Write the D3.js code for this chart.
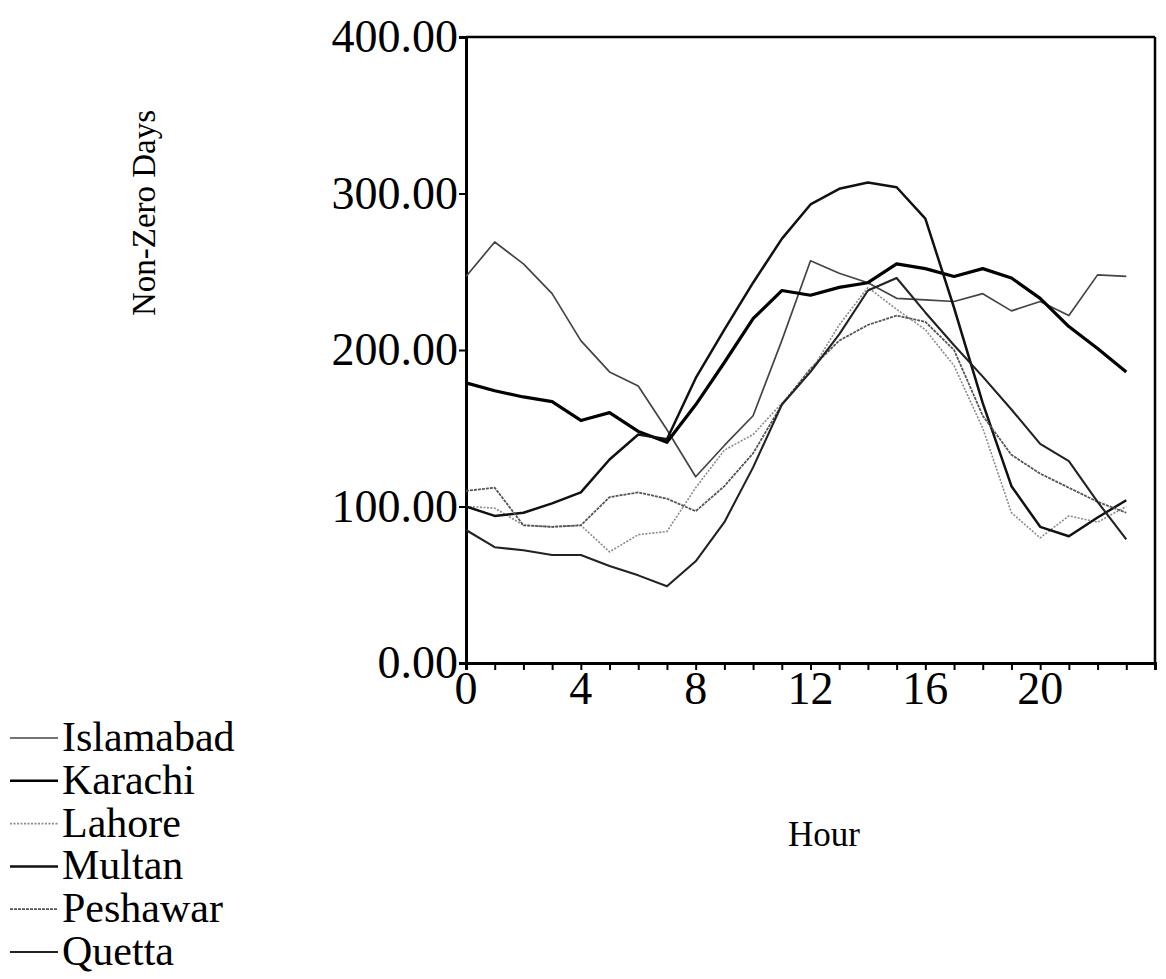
<!DOCTYPE html>
<html>
<head>
<meta charset="utf-8">
<script src="https://cdnjs.cloudflare.com/ajax/libs/d3/7.8.5/d3.min.js"></script>
<style>
	body{margin:0;background:#fff;}
	#viz{width:1166px;height:979px;}
	text{font-family:"Liberation Serif","Times New Roman",serif;fill:#000;}
</style>
</head>
<body>
<div id="viz"></div>
<script>
var hours = d3.range(0,24);
var cities = ["Islamabad","Karachi","Lahore","Multan","Peshawar","Quetta"];

var islamabad = [247,269,255,236,206,186,177,149,119,139,158,206,257,249,243,233,232,231,236,225,231,222,248,247];
var karachi   = [179,174,170,167,155,160,148,141,165,192,220,238,235,240,243,255,252,247,252,246,233,215,201,186];
var lahore    = [100,99,88,87,88,71,82,84,112,136,146,166,186,216,240,226,213,190,150,96,80,94,90,100];
var multan    = [100,94,96,102,109,130,146,143,182,213,243,271,293,303,307,304,284,227,166,113,87,81,93,104];
var peshawar  = [110,112,88,87,88,106,109,105,97,113,134,165,188,206,216,222,218,200,158,133,121,112,103,96];
var quetta    = [85,74,72,69,69,62,56,49,65,90,125,165,186,210,238,246,224,203,183,162,140,129,103,79];

var yTicks = [0,100,200,300,400];
var xTickLabels = [0,4,8,12,16,20];

var Viz = (function(){
	var svg;
	var width = 1166, height = 979;
	var left = 466, right = 1155, top = 37, bottom = 663;
	var x, y;

	var series = [islamabad, karachi, lahore, multan, peshawar, quetta];
	var strokeColors = ["#444","#000","#8a8a8a","#111","#555","#222"];
	var strokeWidths = [1.7,3.2,1.6,2.5,1.8,2.1];
	var dashes = [null,null,"2,1.5",null,"3,1",null];

	var drawAxes = function(){
		x = d3.scaleLinear().domain([0,24]).range([left,right]);
		y = d3.scaleLinear().domain([0,400]).range([bottom,top]);

		// top and right of the frame
		svg.append("line")
			.attr("x1",left).attr("x2",right)
			.attr("y1",top).attr("y2",top)
			.style("stroke","#000").style("stroke-width",2.5);
		svg.append("line")
			.attr("x1",right).attr("x2",right)
			.attr("y1",top).attr("y2",bottom)
			.style("stroke","#000").style("stroke-width",2.5);

		var xAxis = svg.append("g")
			.attr("transform","translate(0,"+bottom+")")
			.call(d3.axisBottom(x).tickValues(d3.range(0,25)).tickSize(7).tickFormat(""));
		xAxis.select(".domain").style("stroke-width",3);
		xAxis.selectAll("line").style("stroke-width",2);

		svg.selectAll(".xlab")
			.data(xTickLabels)
			.enter()
			.append("text")
			.attr("class","xlab")
			.attr("x",function(d){ return x(d); })
			.attr("y",bottom+41)
			.attr("text-anchor","middle")
			.style("font-size","46px")
			.text(function(d){ return d; });

		var yAxis = svg.append("g")
			.attr("transform","translate("+left+",0)")
			.call(d3.axisLeft(y).tickValues(yTicks).tickSize(7).tickFormat(""));
		yAxis.select(".domain").style("stroke-width",3);
		yAxis.selectAll("line").style("stroke-width",2);

		svg.selectAll(".ylab")
			.data(yTicks)
			.enter()
			.append("text")
			.attr("class","ylab")
			.attr("x",left-8)
			.attr("y",function(d){ return y(d)+15; })
			.attr("text-anchor","end")
			.style("font-size","46px")
			.text(function(d){ return d3.format(".2f")(d); });

		svg.append("text")
			.attr("transform","translate(155,213) rotate(-90)")
			.attr("text-anchor","middle")
			.style("font-size","33px")
			.text("Non-Zero Days");
		svg.append("text")
			.attr("x",824)
			.attr("y",846)
			.attr("text-anchor","middle")
			.style("font-size","35px")
			.text("Hour");
	}

	var drawLines = function(){
		var line = d3.line()
			.x(function(d,i){ return x(hours[i]); })
			.y(function(d){ return y(d); });
		svg.selectAll(".city")
			.data(series)
			.enter()
			.append("path")
			.attr("class","city")
			.attr("d",line)
			.style("fill","none")
			.style("stroke",function(d,i){ return strokeColors[i]; })
			.style("stroke-width",function(d,i){ return strokeWidths[i]; })
			.style("stroke-dasharray",function(d,i){ return dashes[i]; })
			.style("stroke-linejoin","round");
	}

	var drawLegend = function(){
		var rowY = d3.scalePoint().domain(cities).range([738,952]);
		var g = svg.append("g");
		g.selectAll(".legLine")
			.data(cities)
			.enter()
			.append("line")
			.attr("x1",10).attr("x2",58)
			.attr("y1",function(d){ return rowY(d); })
			.attr("y2",function(d){ return rowY(d); })
			.style("stroke",function(d,i){ return strokeColors[i]; })
			.style("stroke-width",function(d,i){ return Math.min(strokeWidths[i],2.6); })
			.style("stroke-dasharray",function(d,i){ return dashes[i]; });
		g.selectAll(".legText")
			.data(cities)
			.enter()
			.append("text")
			.attr("x",62)
			.attr("y",function(d){ return rowY(d)+13; })
			.style("font-size","42px")
			.text(function(d){ return d; });
	}

	var setup = function(){
		svg = d3.select("#viz").append("svg")
			.attr("width",width)
			.attr("height",height);
	}

	return {
		setup : setup,
		draw : function(){ drawAxes(); drawLines(); drawLegend(); }
	}
})();

Viz.setup();
Viz.draw();
</script>
</body>
</html>
